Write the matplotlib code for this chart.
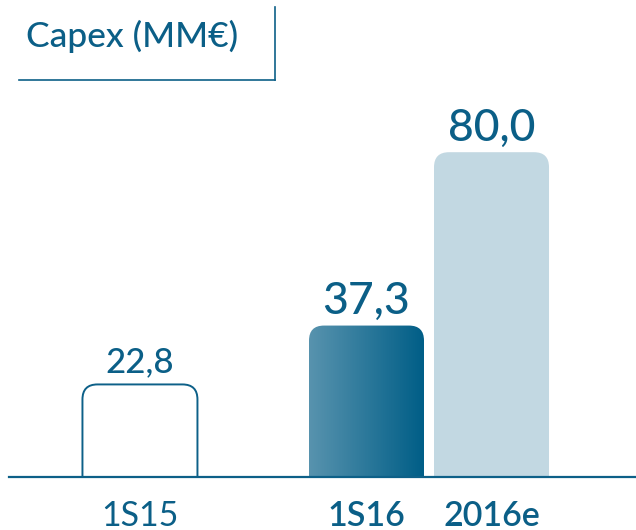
import os
import numpy as np
import matplotlib
matplotlib.use("Agg")
import matplotlib.pyplot as plt
from matplotlib import font_manager as fm
from matplotlib.patches import FancyBboxPatch
from matplotlib.colors import LinearSegmentedColormap

# ---- data ----
categories = ["1S15", "1S16", "2016e"]
values = [22.8, 37.3, 80.0]
value_labels = ["22,8", "37,3", "80,0"]
title_text = "Capex (MM\u20ac)"

# ---- layout ----
W, H, DPI = 636, 530, 100
base_px = 477          # baseline, px from top
px_per_unit = 4.06     # vertical scale
bar_px = 115           # bar width in px (one x unit)
centers = [1.217, 3.187, 4.274]
radius_px = 15

TXT = "#0b5f87"
LINE = "#0d6088"
LIGHT = "#c2d8e2"

plt.rcParams['font.family'] = ['Lato', 'DejaVu Sans']

_lato_files = {}
for f in fm.fontManager.ttflist:
    base = os.path.splitext(os.path.basename(f.fname))[0].lower()
    if base.startswith('lato'):
        _lato_files[base] = f.fname

_fallback_w = {'regular': 400, 'medium': 500, 'semibold': 600, 'bold': 700}


def lato(style, size):
    for key in ('lato-' + style, 'lato' + style, 'lato_' + style):
        if key in _lato_files:
            return fm.FontProperties(fname=_lato_files[key], size=size)
    return fm.FontProperties(family=['Lato', 'DejaVu Sans'],
                             weight=_fallback_w[style], size=size)


fig = plt.figure(figsize=(W / DPI, H / DPI), dpi=DPI)
ax = fig.add_axes([0, (H - base_px) / H, 1, base_px / H])
ax.set_axis_off()
ymax = base_px / px_per_unit
xmax = W / bar_px

aspect = (1 / px_per_unit) / (1 / bar_px)
r_x = radius_px / bar_px
r_y = r_x * aspect

cmap = LinearSegmentedColormap.from_list("g", ["#5893ae", "#005e87"])

for i, (c, v) in enumerate(zip(centers, values)):
    x0 = c - 0.5
    style = f"round,pad=0,rounding_size={r_x}"
    if i == 0:
        p = FancyBboxPatch((x0, -r_y), 1.0, v + r_y, boxstyle=style,
                           mutation_aspect=aspect, facecolor="white",
                           edgecolor=LINE, linewidth=1.4, zorder=2)
        ax.add_patch(p)
    elif i == 1:
        p = FancyBboxPatch((x0, -r_y), 1.0, v + r_y, boxstyle=style,
                           mutation_aspect=aspect, facecolor="none",
                           edgecolor="none", zorder=2)
        ax.add_patch(p)
        grad = np.linspace(0, 1, 256).reshape(1, -1)
        im = ax.imshow(grad, extent=[x0, x0 + 1.0, -r_y, v], cmap=cmap,
                       aspect='auto', zorder=2, interpolation='bilinear')
        im.set_clip_path(p)
    else:
        p = FancyBboxPatch((x0, -r_y), 1.0, v + r_y, boxstyle=style,
                           mutation_aspect=aspect, facecolor=LIGHT,
                           edgecolor="none", zorder=2)
        ax.add_patch(p)
    fs = 25 if i == 0 else 32
    ax.annotate(value_labels[i], (c, v), xytext=(0, 8.5), textcoords="offset points",
                ha="center", va="baseline", fontproperties=lato('medium', fs),
                color=TXT, zorder=3)

ax.set_xlim(0, xmax)
ax.set_ylim(0, ymax)

ax.axhline(0, xmin=9 / W, xmax=1, color=LINE, linewidth=1.6, zorder=4, clip_on=False)

# category labels
for i, (c, lab) in enumerate(zip(centers, categories)):
    fig.text(c * bar_px / W, 4.5 / H, lab, ha="center", va="baseline",
             fontproperties=lato('regular' if i == 0 else 'semibold', 24.5), color=TXT)

# title with bracket lines
fig.text(26 / W, 1 - 47 / H, title_text, ha="left", va="baseline",
         fontproperties=lato('medium', 25.5), color=TXT)
fig.add_artist(plt.Line2D([19 / W, 275 / W], [1 - 80 / H, 1 - 80 / H],
                          color=LINE, linewidth=1.2, transform=fig.transFigure))
fig.add_artist(plt.Line2D([275 / W, 275 / W], [1 - 80 / H, 1 - 7 / H],
                          color=LINE, linewidth=1.2, transform=fig.transFigure))

fig.savefig("out.png", dpi=DPI, facecolor="white")
